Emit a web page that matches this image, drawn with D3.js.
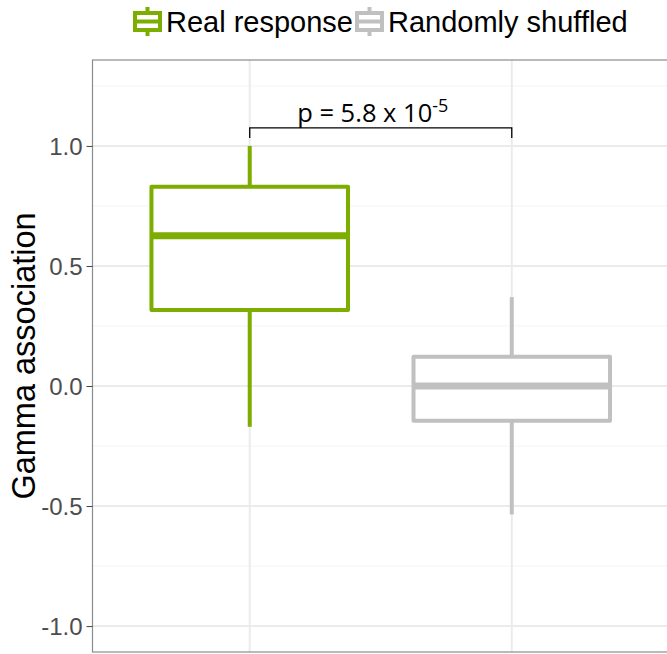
<!DOCTYPE html>
<meta charset="utf-8">
<head>
  <script src="https://d3js.org/d3.v7.min.js"></script>
  <style>
    body { margin: 0; background: #fff; font-family: 'Liberation Sans', Arial, sans-serif; }
  </style>
</head>
<body>
<div id="chart"></div>
<script>
  // data
  const groups = ["Real response", "Randomly shuffled"]
  const colors = ["#7cad00", "#c0c0c0"]
  const whiskerLow = [-0.17, -0.535]
  const q1 = [0.317, -0.145]
  const median = [0.626, 0.0]
  const q3 = [0.83, 0.122]
  const whiskerHigh = [1.0, 0.37]
  const yTicks = [-1.0, -0.5, 0.0, 0.5, 1.0]
  const yMinor = [-0.75, -0.25, 0.25, 0.75, 1.25]
  const pLabel = "p = 5.8 x 10", pExp = "-5"

  const W = 667, H = 654
  const margin = { top: 60, right: -2, bottom: 2, left: 92.5 }
  const width = W - margin.left - margin.right,
    height = H - margin.top - margin.bottom

  const svg = d3.select("#chart").append("svg")
    .attr("width", W).attr("height", H)

  const g = svg.append("g")
    .attr("transform", "translate(" + margin.left + "," + margin.top + ")")

  // ggplot-style discrete axis: 1..n with 0.6 expansion
  const x = d3.scaleLinear().domain([0.4, 2.6]).range([0, width])
  const y = d3.scaleLinear().domain([-1.108, 1.358]).range([height, 0])
  const bw = 0.75

  // grid
  g.selectAll(".minor").data(yMinor).enter().append("line")
    .attr("x1", 0).attr("x2", width)
    .attr("y1", d => y(d)).attr("y2", d => y(d))
    .attr("stroke", "#f4f4f4").attr("stroke-width", 1)
  g.selectAll(".major").data(yTicks).enter().append("line")
    .attr("x1", 0).attr("x2", width)
    .attr("y1", d => y(d)).attr("y2", d => y(d))
    .attr("stroke", "#ebebeb").attr("stroke-width", 2)
  g.selectAll(".vmajor").data(groups).enter().append("line")
    .attr("x1", (d, i) => x(i + 1)).attr("x2", (d, i) => x(i + 1))
    .attr("y1", 0).attr("y2", height)
    .attr("stroke", "#ebebeb").attr("stroke-width", 2)

  // boxes
  const box = g.selectAll(".box").data(groups).enter().append("g")
  box.append("line")
    .attr("x1", (d, i) => x(i + 1)).attr("x2", (d, i) => x(i + 1))
    .attr("y1", (d, i) => y(whiskerHigh[i])).attr("y2", (d, i) => y(q3[i]))
    .attr("stroke", (d, i) => colors[i]).attr("stroke-width", 4)
  box.append("line")
    .attr("x1", (d, i) => x(i + 1)).attr("x2", (d, i) => x(i + 1))
    .attr("y1", (d, i) => y(q1[i])).attr("y2", (d, i) => y(whiskerLow[i]))
    .attr("stroke", (d, i) => colors[i]).attr("stroke-width", 4)
  box.append("rect")
    .attr("x", (d, i) => x(i + 1 - bw / 2))
    .attr("width", x(bw) - x(0))
    .attr("y", (d, i) => y(q3[i]))
    .attr("height", (d, i) => y(q1[i]) - y(q3[i]))
    .attr("fill", "#fff").attr("stroke", (d, i) => colors[i]).attr("stroke-width", 4)
    .attr("stroke-linejoin", "round")
  box.append("line")
    .attr("x1", (d, i) => x(i + 1 - bw / 2)).attr("x2", (d, i) => x(i + 1 + bw / 2))
    .attr("y1", (d, i) => y(median[i])).attr("y2", (d, i) => y(median[i]))
    .attr("stroke", (d, i) => colors[i]).attr("stroke-width", 7)

  // panel border (right edge falls off the page)
  g.append("rect").attr("x", 0).attr("y", 0).attr("width", width).attr("height", height)
    .attr("fill", "none").attr("stroke", "#8c8c8c").attr("stroke-width", 1.2)

  // y axis
  const yAxis = g.append("g")
    .call(d3.axisLeft(y).tickValues(yTicks).tickFormat(d => d.toFixed(1)).tickSize(6).tickPadding(4))
  yAxis.select(".domain").remove()
  yAxis.selectAll("line").attr("stroke", "#444")
  yAxis.selectAll("text").attr("fill", "#4d4d4d")
    .style("font-size", "24px").style("font-family", "'Liberation Sans', Arial, sans-serif")
    .attr("dy", "0.36em")

  svg.append("text")
    .attr("transform", "translate(35," + (margin.top + height / 2) + ") rotate(-90)")
    .attr("text-anchor", "middle")
    .style("font-size", "32.5px").attr("fill", "#000")
    .text("Gamma association")

  // significance bracket
  const by = y(1.075)
  g.append("path")
    .attr("d", "M" + x(1) + "," + (by + 10) + "V" + by + "H" + x(2) + "V" + (by + 10))
    .attr("fill", "none").attr("stroke", "#000").attr("stroke-width", 1.3)
  const pt = g.append("text")
    .attr("x", (x(1) + x(2)) / 2 - 8).attr("y", by - 6)
    .attr("text-anchor", "middle")
    .style("font-family", "'Open Sans', sans-serif").style("font-size", "25.5px")
  pt.append("tspan").text(pLabel)
  pt.append("tspan").attr("dy", -10).style("font-size", "18px").text(pExp)

  // legend
  const keyX = [133, 355], textX = [166, 388]
  const leg = svg.selectAll(".leg").data(groups).enter().append("g")
    .attr("transform", (d, i) => "translate(" + keyX[i] + ",7)")
  leg.append("line").attr("x1", 14.5).attr("x2", 14.5).attr("y1", 0).attr("y2", 29)
    .attr("stroke", (d, i) => colors[i]).attr("stroke-width", 4)
  leg.append("rect").attr("x", 2).attr("y", 6).attr("width", 25).attr("height", 17)
    .attr("fill", "#fff").attr("stroke", (d, i) => colors[i]).attr("stroke-width", 4)
  leg.append("line").attr("x1", 2).attr("x2", 27).attr("y1", 14.5).attr("y2", 14.5)
    .attr("stroke", (d, i) => colors[i]).attr("stroke-width", 4)
  svg.selectAll(".legt").data(groups).enter().append("text")
    .attr("x", (d, i) => textX[i]).attr("y", 32)
    .style("font-size", "29px").attr("fill", "#000")
    .text(d => d)
</script>
</body>
